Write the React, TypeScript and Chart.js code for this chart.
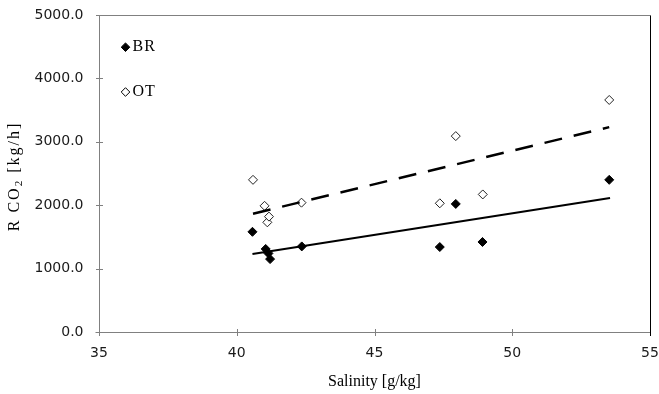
import React, { useEffect, useRef } from 'react';
import { Chart, registerables } from 'chart.js';

Chart.register(...registerables);

// ---- data ----
const seriesNames = ['BR', 'OT'];
const brSalinity = [40.57, 41.05, 41.15, 41.21, 42.36, 47.37, 47.95, 48.92, 53.52];
const brCO2 = [1580, 1310, 1240, 1150, 1350, 1340, 2020, 1420, 2400];
const otSalinity = [40.59, 41.01, 41.11, 41.17, 42.35, 47.37, 47.95, 48.93, 53.52];
const otCO2 = [2400, 1990, 1730, 1820, 2040, 2030, 3090, 2170, 3660];
const brTrendX = [40.57, 53.55];
const brTrendY = [1231, 2113];
const otTrendX = [40.59, 53.52];
const otTrendY = [1866, 3231];
const xTicks = [35, 40, 45, 50, 55];
const yTicks = [0, 1000, 2000, 3000, 4000, 5000];
const xTitle = 'Salinity [g/kg]';
const yTitleParts = ['R CO', '2', ' [kg/h]'];

const toPts = (xs: number[], ys: number[]) => xs.map((x, i) => ({ x, y: ys[i] }));

const SERIF = '"Liberation Serif", "Times New Roman", serif';
const SANS = '"DejaVu Sans", Verdana, sans-serif';

const framePlugin = {
  id: 'frameAndExtras',
  afterDraw(chart: any) {
    const { ctx, chartArea, scales } = chart;
    const { left, right, top, bottom } = chartArea;
    const xs = scales.x;
    const ys = scales.y;
    const L = Math.round(left) + 0.5;
    const R = Math.round(right) + 0.5;
    const T = Math.round(top) + 0.5;
    const B = Math.round(bottom) + 0.5;
    ctx.save();
    ctx.lineWidth = 1;
    ctx.strokeStyle = '#808080';
    ctx.beginPath();
    ctx.moveTo(L, T);
    ctx.lineTo(L, B);
    ctx.moveTo(L - 4, B);
    ctx.lineTo(R, B);
    ctx.moveTo(L, T);
    ctx.lineTo(R, T);
    yTicks.forEach((v) => {
      const py = Math.round(ys.getPixelForValue(v)) + 0.5;
      ctx.moveTo(L - 3.5, py);
      ctx.lineTo(L + 3.5, py);
    });
    xTicks.forEach((v) => {
      const px = Math.round(xs.getPixelForValue(v)) + 0.5;
      if (v === xTicks[xTicks.length - 1]) return;
      ctx.moveTo(px, B - 3.5);
      ctx.lineTo(px, B + 3.5);
    });
    ctx.stroke();
    ctx.strokeStyle = '#000';
    ctx.beginPath();
    ctx.moveTo(R, T);
    ctx.lineTo(R, B + 3.5);
    ctx.stroke();

    // y axis title with subscript
    ctx.fillStyle = '#000';
    ctx.textBaseline = 'middle';
    (ctx as any).letterSpacing = '2px';
    const bigFont = '16px ' + SERIF;
    const subFont = '11px ' + SERIF;
    ctx.font = bigFont;
    const w1 = ctx.measureText(yTitleParts[0]).width;
    const w3 = ctx.measureText(yTitleParts[2]).width;
    ctx.font = subFont;
    const w2 = ctx.measureText(yTitleParts[1]).width;
    const total = w1 + w2 + w3;
    ctx.translate(15, (top + bottom) / 2 + 3);
    ctx.rotate(-Math.PI / 2);
    let cx = -total / 2;
    ctx.textAlign = 'left';
    ctx.font = bigFont;
    ctx.fillText(yTitleParts[0], cx, 0);
    cx += w1;
    ctx.font = subFont;
    ctx.fillText(yTitleParts[1], cx, 4);
    cx += w2;
    ctx.font = bigFont;
    ctx.fillText(yTitleParts[2], cx, 0);
    ctx.restore();

    // legend inside the plot
    ctx.save();
    const entries = [
      { name: seriesNames[0], fill: '#000', y: 47.2 },
      { name: seriesNames[1], fill: '#fff', y: 92 },
    ];
    entries.forEach((e) => {
      const mx = 125.5;
      const r = 4.3;
      ctx.beginPath();
      ctx.moveTo(mx, e.y - r);
      ctx.lineTo(mx + r, e.y);
      ctx.lineTo(mx, e.y + r);
      ctx.lineTo(mx - r, e.y);
      ctx.closePath();
      ctx.fillStyle = e.fill;
      ctx.fill();
      ctx.lineWidth = 1;
      ctx.strokeStyle = '#000';
      ctx.stroke();
      ctx.fillStyle = '#000';
      ctx.font = '16px ' + SERIF;
      (ctx as any).letterSpacing = '1px';
      ctx.textAlign = 'left';
      ctx.textBaseline = 'middle';
      ctx.fillText(e.name, 132.5, e.y);
    });
    ctx.restore();
  },
};

export default function App() {
  const canvasRef = useRef<HTMLCanvasElement | null>(null);

  useEffect(() => {
    const canvas = canvasRef.current;
    if (!canvas) return;
    const chart = new Chart(canvas, {
      type: 'scatter',
      data: {
        datasets: [
          {
            label: seriesNames[0] + ' trend',
            data: toPts(brTrendX, brTrendY),
            showLine: true,
            borderColor: '#000',
            borderWidth: 2,
            pointRadius: 0,
            order: 0,
          },
          {
            label: seriesNames[1] + ' trend',
            data: toPts(otTrendX, otTrendY),
            showLine: true,
            borderColor: '#000',
            borderWidth: 2.5,
            borderDash: [18, 12],
            pointRadius: 0,
            order: 0,
          },
          {
            label: seriesNames[0],
            data: toPts(brSalinity, brCO2),
            pointStyle: 'rectRot',
            pointRadius: 4.5,
            backgroundColor: '#000',
            borderColor: '#000',
            borderWidth: 1,
            order: 1,
          },
          {
            label: seriesNames[1],
            data: toPts(otSalinity, otCO2),
            pointStyle: 'rectRot',
            pointRadius: 4.5,
            backgroundColor: '#fff',
            borderColor: '#222',
            borderWidth: 1,
            order: 1,
          },
        ],
      },
      options: {
        animation: false,
        responsive: false,
        devicePixelRatio: 1,
        layout: { padding: { left: 0, top: 15, right: 9, bottom: 0 } },
        plugins: {
          legend: { display: false },
          tooltip: { enabled: false },
        },
        scales: {
          x: {
            type: 'linear',
            min: xTicks[0],
            max: xTicks[xTicks.length - 1],
            afterBuildTicks: (s: any) => {
              s.ticks = xTicks.map((v) => ({ value: v }));
            },
            afterFit: (s: any) => {
              s.height = 62;
              s.paddingLeft = 0;
              s.paddingRight = 0;
              s.paddingTop = 0;
              s.paddingBottom = 0;
            },
            grid: { display: false, drawTicks: false },
            border: { display: false },
            ticks: {
              padding: 13,
              color: '#1a1a1a',
              font: { family: SANS, size: 14 },
              callback: (v: any) => String(v),
              maxRotation: 0,
              autoSkip: false,
            },
            title: {
              display: true,
              text: xTitle,
              color: '#000',
              font: { family: SERIF, size: 16 },
              padding: { top: 0, bottom: 3 },
            },
          },
          y: {
            type: 'linear',
            min: yTicks[0],
            max: yTicks[yTicks.length - 1],
            afterBuildTicks: (s: any) => {
              s.ticks = yTicks.map((v) => ({ value: v }));
            },
            afterFit: (s: any) => {
              s.width = 99;
              s.paddingLeft = 0;
              s.paddingRight = 0;
              s.paddingTop = 0;
              s.paddingBottom = 0;
            },
            grid: { display: false, drawTicks: false },
            border: { display: false },
            ticks: {
              padding: 15.5,
              color: '#1a1a1a',
              font: { family: SANS, size: 14 },
              callback: (v: any) => Number(v).toFixed(1),
              autoSkip: false,
            },
            title: { display: false },
          },
        },
      },
      plugins: [framePlugin],
    });
    return () => chart.destroy();
  }, []);

  return (
    <div style={{ position: 'absolute', left: 0, top: 0, width: 659, height: 394, background: '#fff' }}>
      <canvas ref={canvasRef} width={659} height={394} style={{ display: 'block' }} />
    </div>
  );
}
